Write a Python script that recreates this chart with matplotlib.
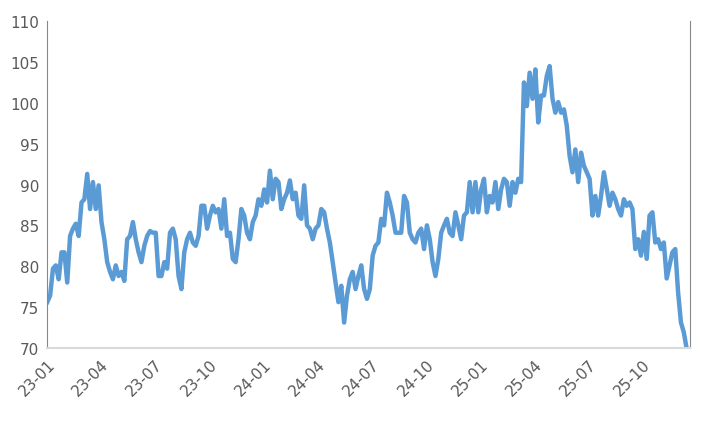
import matplotlib
matplotlib.use("Agg")
import matplotlib.pyplot as plt
import matplotlib.dates as mdates
import numpy as np
import pandas as pd

start_date = "2023-01-01"
end_date = "2025-12-14"

values_2023a = [75.6, 76.4, 79.7, 80.1, 78.4, 81.7, 81.7, 78.0, 83.7, 84.6, 85.2, 83.7, 87.8, 88.2, 91.3,
                87.0, 90.3, 87.0, 89.9, 85.4, 83.3, 80.5, 79.3, 78.4, 80.1, 78.8, 79.3, 78.2, 83.3, 83.7,
                85.4, 83.3, 81.7, 80.5, 82.5, 83.7, 84.3, 84.1, 84.1, 78.8, 78.8, 80.5, 79.7, 84.1, 84.6,
                83.3, 78.8, 77.2, 81.7, 83.3]
values_2023b = [84.1, 82.9, 82.5, 83.7, 87.4, 87.4, 84.6, 86.2, 87.4, 86.6, 87.0, 84.6, 88.2, 83.7, 84.1,
                80.9, 80.5, 83.3, 87.0, 86.2, 84.1, 83.3, 85.4, 86.2, 88.2, 87.4, 89.4, 87.8, 91.7, 88.2,
                90.7, 90.3, 87.0, 88.2, 89.0, 90.5, 88.2, 89.0, 86.2, 85.8, 89.9, 85.0, 84.6, 83.3, 84.6,
                85.0, 87.0, 86.6, 84.6, 82.9, 80.5, 78.0, 75.6, 77.6, 73.1, 76.4, 78.4]
values_2024 = [79.3, 77.2, 78.8, 80.1, 77.2, 76.0, 77.2, 81.3, 82.5, 82.9, 85.8, 85.0, 89.0, 87.8, 86.2,
               84.1, 84.1, 84.1, 88.6, 87.8, 84.1, 83.3, 82.9, 84.1, 84.6, 82.1, 85.0, 83.3, 80.5, 78.8,
               80.9, 84.1, 85.0, 85.8, 84.1, 83.7, 86.6, 85.0, 83.3, 86.2, 86.6, 90.3, 86.6, 90.3, 86.6,
               89.4, 90.7, 86.6, 88.6, 87.8, 90.3, 87.0, 89.4, 90.7]
values_2025 = [90.3, 87.4, 90.3, 89.0, 90.7, 90.3, 102.5, 99.6, 103.7, 100.5, 104.1, 97.6, 100.9, 100.9,
               103.3, 104.5, 100.5, 98.8, 100.1, 98.8, 99.2, 97.2, 93.5, 91.5, 94.3, 90.3, 93.9, 92.3,
               91.5, 90.7, 86.2, 88.6, 86.2, 88.6, 91.5, 89.5, 87.4, 89.0, 88.2, 87.0, 86.2, 88.2, 87.4,
               87.8, 87.0, 82.1, 83.3, 81.3, 84.2, 80.9, 86.2, 86.6, 82.9, 83.3, 82.1, 82.9, 78.5, 80.1,
               81.7, 82.1, 76.8, 73.1, 71.9, 69.9]

values = np.array(values_2023a + values_2023b + values_2024 + values_2025)
dates = pd.to_datetime(np.linspace(pd.Timestamp(start_date).value,
                                   pd.Timestamp(end_date).value, len(values)))

y_ticks = [70, 75, 80, 85, 90, 95, 100, 105, 110]

fig = plt.figure(figsize=(7.16, 4.27), dpi=100)
ax = fig.add_axes([0.066, 0.183, 0.898, 0.765])
ax.plot(dates, values, color="#5B9BD5", lw=3.2, solid_joinstyle="round")
ax.set_xlim(pd.Timestamp(start_date), pd.Timestamp("2025-12-20"))
ax.set_ylim(70, 110)
ax.set_yticks(y_ticks)
ax.xaxis.set_major_locator(mdates.MonthLocator(bymonth=[1, 4, 7, 10]))
ax.xaxis.set_major_formatter(mdates.DateFormatter("%y-%m"))
plt.setp(ax.get_xticklabels(), rotation=45, ha="right", rotation_mode="anchor")
ax.tick_params(axis="both", length=0, labelsize=11, colors="#595959", pad=6)
for side in ["top"]:
    ax.spines[side].set_visible(False)
ax.spines["left"].set_color("#888888")
ax.spines["right"].set_color("#888888")
ax.spines["bottom"].set_color("#d9d9d9")
ax.spines["bottom"].set_linewidth(1.5)
fig.savefig("out.png", dpi=100)
